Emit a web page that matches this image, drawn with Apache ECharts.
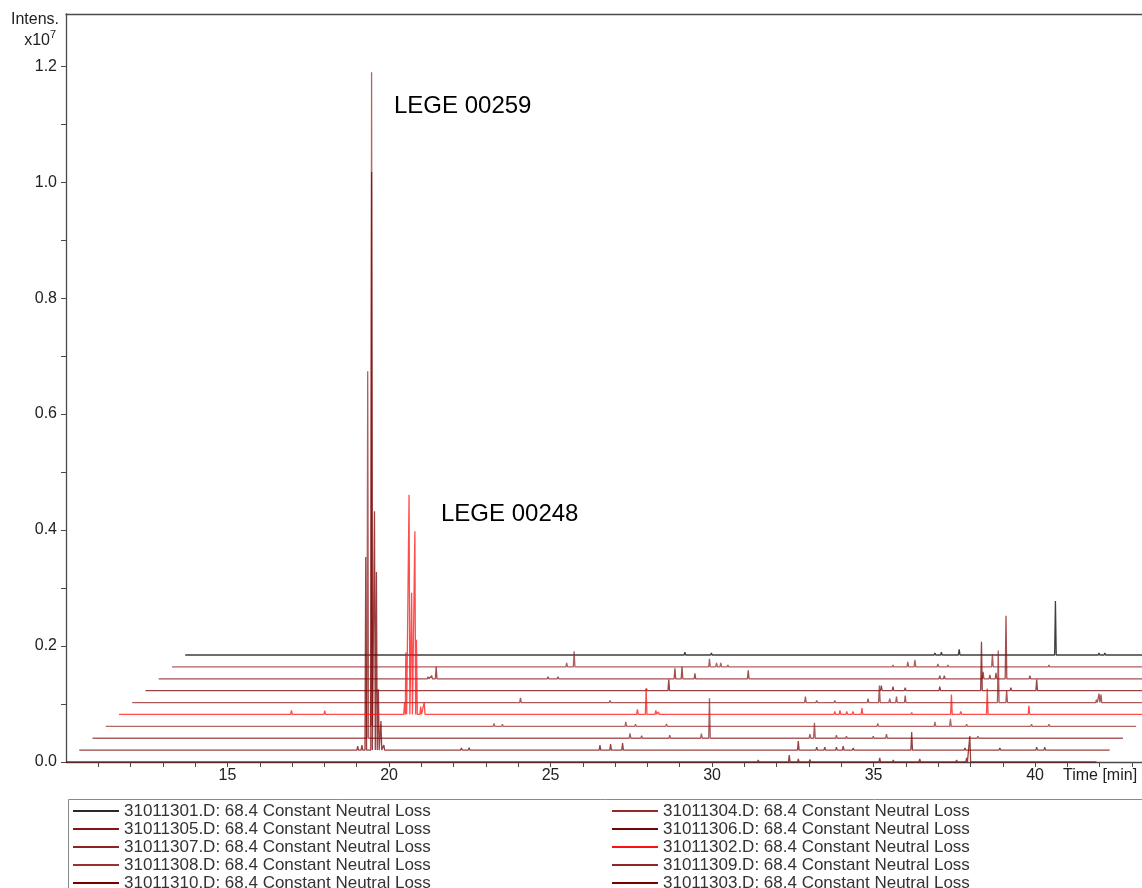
<!DOCTYPE html>
<html>
<head>
<meta charset="utf-8">
<script src="https://cdn.jsdelivr.net/npm/echarts@6.0.0/dist/echarts.min.js"></script>
<style>
html,body{margin:0;padding:0;background:#fff;}
#chart{width:1142px;height:888px;}
</style>
</head>
<body>
<div id="chart"></div>
<script>
// ---------- DATA (time in min, intensity in x10^7) ----------
const traceIds = ['31011301','31011304','31011305','31011306','31011307','31011302','31011308','31011309','31011310','31011303']; // top -> bottom of the stack
const legendLeftIds  = ['31011301','31011305','31011307','31011308','31011310'];
const legendRightIds = ['31011304','31011306','31011302','31011309','31011303'];
const timeRange = [10.0, 41.9];
const xTicks = [15, 20, 25, 30, 35, 40];
const yTicks = [0.0, 0.2, 0.4, 0.6, 0.8, 1.0, 1.2];

const peaks01 = [[24.28,.002],[25.47,.005],[26.29,.0035],[33.21,.0035],[33.41,.005],[33.96,.0098],[36.94,.093],[38.29,.0035],[38.47,.0035]];
const peaks04 = [[22.22,.0069],[22.45,.027],[26.64,.0138],[26.86,.0069],[26.99,.0069],[27.21,.0035],[32.32,.0035],[32.78,.0086],[33.0,.0121],[33.71,.0052],[34.02,.0035],[35.4,.0224],[37.15,.0035]];
const peaks05 = [[18.34,.0035],[18.45,.0052],[18.59,.0207],[22.05,.0035],[22.36,.0035],[25.98,.0181],[26.2,.0207],[26.6,.0095],[28.25,.0147],[34.18,.0052],[34.32,.0052],[35.52,.0121],[35.73,.0069],[35.92,.0103],[36.23,.1086],[36.97,.0052]];
const peaks06 = [[22.27,.0026],[25.51,.0035],[26.2,.019],[32.78,.0086],[33.14,.0069],[33.52,.0052],[34.59,.0069],[35.88,.0845],[36.79,.0052],[37.59,.019]];
const peaks07 = [[22.02,.0081],[24.79,.0035],[30.84,.0103],[31.19,.0035],[31.75,.0035],[32.78,.0069],[33.13,.0293],[33.45,.0069],[33.66,.0103],[33.93,.0121],[36.81,.0897],[37.07,.0207],[39.85,.0052],[39.93,.0155],[39.99,.0138]];
const peaks02 = [[15.34,.0069],[16.37,.0064],[18.84,.02],[18.88,.107],[18.98,.379],[19.06,.21],[19.16,.316],[19.21,.129],[19.34,.0138],[19.45,.0207],[26.05,.0086],[26.32,.0448],[26.62,.0069],[26.7,.0043],[32.16,.0052],[32.32,.0069],[32.53,.0052],[32.72,.0052],[33.0,.0112],[34.54,.0035],[35.77,.0345],[36.06,.0052],[36.88,.0448],[38.17,.0147]];
const peaks08 = [[18.23,1.128],[22.02,.0052],[22.28,.0035],[26.1,.0078],[26.4,.0035],[27.36,.0043],[33.9,.0052],[35.67,.0078],[36.15,.0129],[36.65,.0035],[38.66,.0035],[39.2,.0035]];
const peaks09 = [[18.52,.633],[26.64,.0086],[27.0,.0043],[27.87,.0052],[28.85,.0078],[29.1,.069],[32.21,.0069],[32.35,.0267],[33.03,.0052],[33.34,.0035],[34.17,.0035],[34.58,.0069],[37.41,.0035]];
const peaks10 = [[18.62,.0069],[18.75,.0086],[18.87,.333],[19.05,.997],[19.14,.412],[19.2,.307],[19.26,.105],[19.34,.05],[19.43,.0086],[21.83,.0035],[22.07,.0043],[26.12,.0086],[26.45,.0103],[26.82,.0121],[32.26,.0155],[32.83,.0052],[33.08,.0052],[33.44,.0052],[33.65,.0069],[33.96,.0035],[35.77,.031],[37.42,.0035],[38.5,.0035],[39.64,.0052],[39.89,.0052]];
const peaks03 = [[22.3,.0026],[31.43,.0035],[32.39,.0121],[32.67,.0052],[33.03,.0043],[35.19,.0069],[35.61,.0035],[36.43,.0052],[37.57,.0035],[37.88,.0069],[37.98,.0448]];

const peaksById = {
  '31011301': peaks01, '31011304': peaks04, '31011305': peaks05, '31011306': peaks06, '31011307': peaks07,
  '31011302': peaks02, '31011308': peaks08, '31011309': peaks09, '31011310': peaks10, '31011303': peaks03
};
const labelSuffix = '.D: 68.4 Constant Neutral Loss';

// ---------- STYLE ----------
const colors = {
  '31011301': '#2a2a2a', '31011304': '#962a2a', '31011305': '#861414', '31011306': '#740606', '31011307': '#902222',
  '31011302': '#ff1010', '31011308': '#9c3030', '31011309': '#8e2828', '31011310': '#780000', '31011303': '#780000'
};
const DX = 0.41;    // waterfall shift per trace (min)
const DY = 0.0205;  // waterfall shift per trace (x10^7)
const HW = 0.025;   // half width of a peak

function buildTrace(peaks, i) {
  const pts = [[timeRange[0], 0]];
  peaks.slice().sort((a, b) => a[0] - b[0]).forEach(([t, h]) => {
    pts.push([t - HW, 0], [t, h], [t + HW, 0]);
  });
  pts.push([timeRange[1], 0]);
  return pts.map(([t, v]) => [t + i * DX, v + i * DY]);
}

const series = traceIds.map((id, k) => {
  const i = traceIds.length - 1 - k;
  return {
    name: id + labelSuffix,
    type: 'line',
    data: buildTrace(peaksById[id], i),
    showSymbol: false,
    symbol: 'none',
    color: colors[id],
    lineStyle: { width: 1.3, opacity: id === '31011301' ? 0.9 : 0.75 },
    z: id === '31011302' ? 20 : 10 + k,
    silent: true,
    animation: false,
    clip: true
  };
});

const axisColor = '#4a4a4a';
const font = 'Arial, "Liberation Sans", sans-serif';

function legendFor(id, left, row) {
  return {
    orient: 'horizontal', left: left, top: 802 + row * 18, itemGap: 0, itemWidth: 46, itemHeight: 2, icon: 'rect',
    data: [id + labelSuffix],
    textStyle: { fontSize: 17, fontFamily: font, color: '#333', lineHeight: 18 },
    padding: 0, selectedMode: false
  };
}
const legends = []
  .concat(legendLeftIds.map((id, r) => legendFor(id, 73, r)))
  .concat(legendRightIds.map((id, r) => legendFor(id, 612, r)));

const option = {
  animation: false,
  backgroundColor: '#ffffff',
  grid: { left: 66, right: 0, top: 14, bottom: 126, containLabel: false },
  xAxis: [{
    type: 'value', min: 10, max: 43.31, interval: 1,
    axisLine: { show: true, lineStyle: { color: axisColor, width: 1.3 } },
    axisTick: { show: true, length: 5, lineStyle: { color: axisColor, width: 1 } },
    axisLabel: {
      margin: 6, color: '#222', fontSize: 16, fontFamily: font,
      showMinLabel: false, showMaxLabel: false,
      formatter: v => (xTicks.indexOf(Math.round(v)) >= 0 && Math.abs(v - Math.round(v)) < 1e-6) ? String(Math.round(v)) : ''
    },
    splitLine: { show: false }
  }, {
    type: 'value', position: 'top', min: 10, max: 43.31,
    axisLine: { show: true, onZero: false, lineStyle: { color: axisColor, width: 1.3 } },
    axisTick: { show: false }, axisLabel: { show: false }, splitLine: { show: false }
  }],
  yAxis: {
    type: 'value', min: 0, max: 1.29, interval: 0.1,
    axisLine: { show: true, lineStyle: { color: axisColor, width: 1.3 } },
    axisTick: { show: true, length: 5, lineStyle: { color: axisColor, width: 1 } },
    axisLabel: {
      margin: 9, color: '#222', fontSize: 16, fontFamily: font, showMaxLabel: false,
      formatter: v => {
        const r = Math.round(v * 10) / 10;
        return yTicks.some(t => Math.abs(t - r) < 1e-6) && Math.abs(v - r) < 1e-6 ? r.toFixed(1) : '';
      }
    },
    splitLine: { show: false }
  },
  legend: legends,
  graphic: [
    { type: 'rect', left: 66, top: 797, shape: { width: 1100, height: 120 }, style: { fill: 'none', stroke: '#8a8a8a', lineWidth: 1 }, silent: true },
    { type: 'text', right: 1142 - 59, top: 12, style: { text: 'Intens.', font: '16px ' + font, fill: '#222' } },
    { type: 'text', right: 1142 - 50, top: 33, style: { text: 'x10', font: '16px ' + font, fill: '#222' } },
    { type: 'text', left: 50, top: 29, style: { text: '7', font: '11px ' + font, fill: '#222' } },
    { type: 'text', left: 1063, top: 768, style: { text: 'Time [min]', font: '16px ' + font, fill: '#222' } },
    { type: 'text', left: 394, top: 94, style: { text: 'LEGE 00259', font: '24px ' + font, fill: '#000' } },
    { type: 'text', left: 441, top: 502, style: { text: 'LEGE 00248', font: '24px ' + font, fill: '#000' } }
  ],
  series: series
};

const chart = echarts.init(document.getElementById('chart'), null, { renderer: 'canvas' });
chart.setOption(option);
</script>
</body>
</html>
